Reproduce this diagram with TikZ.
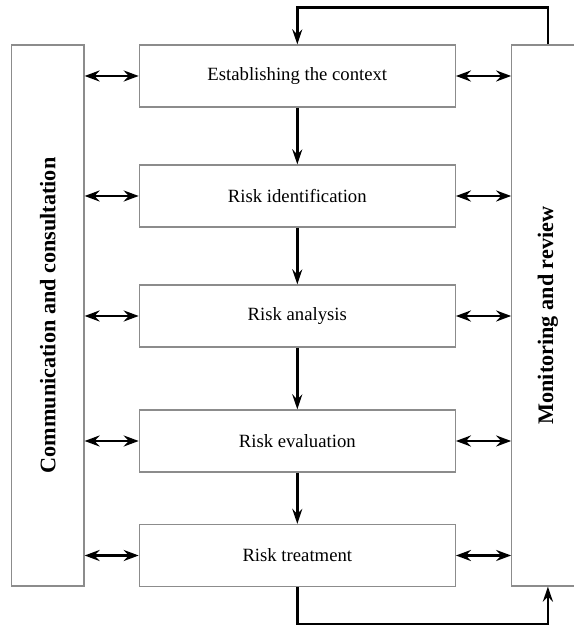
\documentclass[tikz,border=0pt]{standalone}
\usepackage{fontspec}
\setmainfont{Liberation Serif}
\usetikzlibrary{positioning,arrows.meta}
\definecolor{boxgray}{HTML}{8C8C8C}

\begin{document}
\begin{tikzpicture}[x=1pt,y=1pt,
    stepbox/.style={draw=boxgray, line width=1.2pt, minimum width=316pt,
      minimum height=62pt, inner sep=0pt, font=\fontsize{18.7}{22}\selectfont},
    sidebox/.style={draw=boxgray, line width=1.2pt, minimum width=72.3pt,
      minimum height=541pt, inner sep=0pt},
    sidetext/.style={rotate=90, font=\fontsize{22.2}{26}\selectfont\bfseries},
    flow/.style={line width=2.7pt, -{Stealth[length=15pt,width=10pt,inset=5pt]}},
    link/.style={line width=2.5pt,
      {Stealth[length=15pt,width=11pt,inset=5pt]}-{Stealth[length=15pt,width=11pt,inset=5pt]}}]
  \useasboundingbox (0,0) rectangle (573,626);

  % Side boxes
  \node[sidebox, label={[sidetext]center:Communication and consultation}]
    (comm) at (47.85,310.5) {};
  \node[sidebox, label={[sidetext]center:Monitoring and review}]
    (mon) at (547.9,310.5) {};

  % Process steps
  \node[stepbox] (est)   at (297.3,550)  {Establishing the context};
  \node[stepbox] (ident) at (297.3,430)  {Risk identification};
  \node[stepbox] (anal)  at (297.3,310)  {Risk analysis};
  \node[stepbox] (eval)  at (297.3,185)  {Risk evaluation};
  \node[stepbox] (treat) at (297.3,70.5) {Risk treatment};

  % Main flow
  \draw[flow] (est) -- (ident);
  \draw[flow] (ident) -- (anal);
  \draw[flow] (anal) -- (eval);
  \draw[flow] (eval) -- (treat);

  % Links to the side boxes
  \foreach \s in {est,ident,anal,eval,treat}{
    \draw[link] (\s.west -| comm.east) -- (\s.west);
    \draw[link] (\s.east) -- (\s.east -| mon.west);
  }

  % Feedback loops
  \draw[flow] (mon.north) -- ++(0,36.7) -| (est.north);
  \draw[flow] (treat.south) -- ++(0,-37) -| (mon.south);
\end{tikzpicture}
\end{document}
